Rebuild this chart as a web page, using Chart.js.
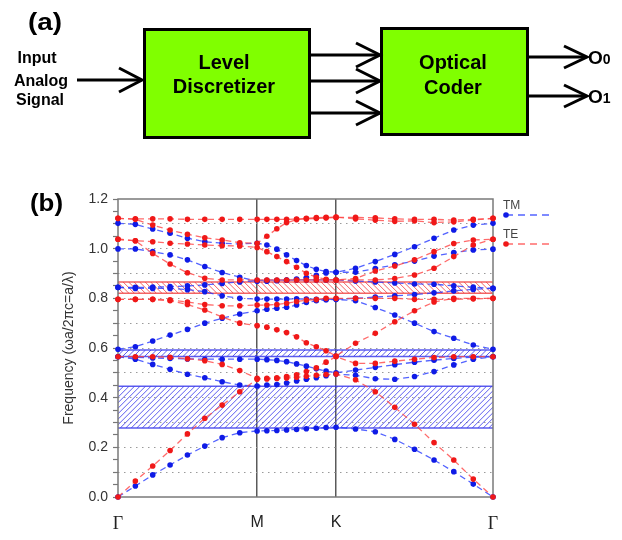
<!DOCTYPE html>
<html>
<head>
<meta charset="utf-8">
<script src="https://cdn.jsdelivr.net/npm/chart.js@4.4.0/dist/chart.umd.min.js"></script>
<style>
  body { margin: 0; background: #fff; width: 622px; height: 540px; position: relative; overflow: hidden; }
  #bands { position: absolute; left: 0; top: 180px; }
  #overlay { position: absolute; left: 0; top: 0; pointer-events: none; }
</style>
</head>
<body>
<canvas id="bands" width="622" height="360"></canvas>

<svg id="overlay" width="622" height="540" font-family="Liberation Sans, Arial, sans-serif">
  <!-- (a) block diagram -->
  <g font-weight="bold" fill="#000">
    <text x="28" y="30" font-size="23" textLength="34" lengthAdjust="spacingAndGlyphs">(a)</text>
    <g font-size="16" text-anchor="middle">
      <text x="37" y="63">Input</text>
      <text x="41" y="86">Analog</text>
      <text x="40" y="105">Signal</text>
    </g>
  </g>
  <rect x="144.5" y="29.5" width="165" height="108" fill="#80ff00" stroke="#000" stroke-width="3"/>
  <rect x="381.5" y="28.5" width="146" height="106" fill="#80ff00" stroke="#000" stroke-width="3"/>
  <g font-weight="bold" font-size="20" text-anchor="middle" fill="#000">
    <text x="224" y="69">Level</text>
    <text x="224" y="93">Discretizer</text>
    <text x="453" y="69">Optical</text>
    <text x="453" y="94">Coder</text>
  </g>
  <g stroke="#000" stroke-width="3" fill="none" stroke-linejoin="miter">
    <line x1="77" y1="80" x2="141" y2="80"/>
    <polyline points="119,68 142,80 119,92"/>
    <line x1="310" y1="55" x2="379" y2="55"/>
    <polyline points="356,43 380,55 356,67"/>
    <line x1="310" y1="81" x2="379" y2="81"/>
    <polyline points="356,69 380,81 356,93"/>
    <line x1="310" y1="113" x2="379" y2="113"/>
    <polyline points="356,101 380,113 356,125"/>
    <line x1="528" y1="57" x2="586" y2="57"/>
    <polyline points="564,46 587,57 564,68"/>
    <line x1="528" y1="96" x2="586" y2="96"/>
    <polyline points="564,85 587,96 564,107"/>
  </g>
  <g font-weight="bold" fill="#000">
    <text x="588" y="64" font-size="19">O<tspan font-size="14">0</tspan></text>
    <text x="588" y="103" font-size="19">O<tspan font-size="14">1</tspan></text>
  </g>

  <!-- (b) tag and legend -->
  <text x="30" y="211" font-size="23" font-weight="bold" textLength="33" lengthAdjust="spacingAndGlyphs">(b)</text>
  <g font-size="12" fill="#444">
    <text x="503" y="209">TM</text>
    <text x="503" y="238">TE</text>
  </g>
  <line x1="506" y1="215" x2="550" y2="215" stroke="rgba(40,60,255,0.8)" stroke-width="1.3" stroke-dasharray="7 5"/>
  <circle cx="506" cy="215" r="2.8" fill="#0f1be6"/>
  <line x1="506" y1="244" x2="550" y2="244" stroke="rgba(255,70,70,0.8)" stroke-width="1.3" stroke-dasharray="7 5"/>
  <circle cx="506" cy="244" r="2.8" fill="#f01818"/>
</svg>

<script>
// k-path Γ → M → K → Γ, 8 steps on each segment
const kPos = [0, 0.073, 0.146, 0.219, 0.292, 0.365, 0.438, 0.512, 0.585,
              0.626, 0.668, 0.709, 0.751, 0.792, 0.834, 0.875, 0.917,
              0.999, 1.082, 1.164, 1.247, 1.329, 1.412, 1.494, 1.577];
const symPoints = [0, 0.585, 0.917, 1.577];
const symLabels = ['Γ', 'M', 'K', 'Γ'];

// TM bands (blue)
const tm1 = [0, 0.044, 0.089, 0.129, 0.169, 0.205, 0.239, 0.259, 0.266, 0.267, 0.268, 0.27, 0.272, 0.275, 0.277, 0.28, 0.281, 0.274, 0.263, 0.232, 0.192, 0.149, 0.102, 0.052, 0];
const tm2 = [0.565, 0.555, 0.534, 0.514, 0.494, 0.48, 0.464, 0.451, 0.447, 0.451, 0.453, 0.459, 0.467, 0.474, 0.48, 0.488, 0.495, 0.49, 0.476, 0.474, 0.485, 0.505, 0.532, 0.555, 0.565];
const tm3 = [0.565, 0.563, 0.56, 0.558, 0.556, 0.555, 0.555, 0.555, 0.555, 0.553, 0.55, 0.545, 0.536, 0.527, 0.516, 0.507, 0.50, 0.511, 0.522, 0.533, 0.543, 0.551, 0.558, 0.563, 0.565];
const tm4 = [0.595, 0.605, 0.628, 0.652, 0.675, 0.70, 0.72, 0.737, 0.75, 0.756, 0.76, 0.764, 0.773, 0.783, 0.79, 0.794, 0.796, 0.79, 0.763, 0.733, 0.70, 0.666, 0.639, 0.612, 0.595];
const tm5 = [0.844, 0.84, 0.84, 0.84, 0.835, 0.827, 0.81, 0.80, 0.797, 0.797, 0.797, 0.797, 0.798, 0.797, 0.796, 0.796, 0.796, 0.80, 0.805, 0.81, 0.815, 0.822, 0.83, 0.836, 0.84];
const tm6 = [0.844, 0.844, 0.845, 0.847, 0.85, 0.854, 0.86, 0.866, 0.872, 0.873, 0.873, 0.873, 0.874, 0.874, 0.874, 0.874, 0.874, 0.87, 0.866, 0.862, 0.858, 0.857, 0.85, 0.845, 0.84];
const tm7 = [0.999, 0.999, 0.988, 0.975, 0.955, 0.928, 0.904, 0.885, 0.869, 0.869, 0.871, 0.874, 0.878, 0.884, 0.893, 0.902, 0.905, 0.905, 0.92, 0.935, 0.95, 0.97, 0.984, 0.995, 0.998];
const tm8 = [1.102, 1.098, 1.079, 1.062, 1.042, 1.028, 1.022, 1.019, 1.022, 1.015, 0.998, 0.975, 0.952, 0.932, 0.917, 0.908, 0.905, 0.921, 0.948, 0.977, 1.008, 1.042, 1.075, 1.095, 1.102];

// TE bands (red)
const te1 = [0, 0.064, 0.125, 0.187, 0.254, 0.317, 0.37, 0.424, 0.474, 0.475, 0.477, 0.479, 0.482, 0.486, 0.49, 0.493, 0.495, 0.472, 0.424, 0.361, 0.293, 0.219, 0.149, 0.072, 0];
const te2 = [0.565, 0.565, 0.565, 0.563, 0.557, 0.549, 0.534, 0.509, 0.478, 0.478, 0.48, 0.485, 0.492, 0.505, 0.52, 0.543, 0.565, 0.538, 0.538, 0.547, 0.555, 0.562, 0.565, 0.565, 0.565];
const te3 = [0.796, 0.796, 0.796, 0.79, 0.775, 0.753, 0.725, 0.70, 0.69, 0.684, 0.673, 0.662, 0.645, 0.621, 0.605, 0.589, 0.568, 0.619, 0.659, 0.706, 0.75, 0.785, 0.80, 0.80, 0.80];
const te4 = [0.796, 0.796, 0.796, 0.794, 0.785, 0.775, 0.77, 0.77, 0.773, 0.773, 0.775, 0.78, 0.787, 0.793, 0.795, 0.80, 0.80, 0.80, 0.80, 0.80, 0.796, 0.796, 0.796, 0.798, 0.80];
const te5 = [1.038, 1.032, 0.981, 0.938, 0.903, 0.881, 0.874, 0.874, 0.874, 0.874, 0.874, 0.874, 0.874, 0.874, 0.874, 0.874, 0.874, 0.874, 0.874, 0.88, 0.894, 0.921, 0.968, 1.015, 1.038];
const te6 = [1.038, 1.032, 1.028, 1.022, 1.019, 1.015, 1.012, 1.011, 1.005, 0.988, 0.968, 0.948, 0.925, 0.901, 0.885, 0.877, 0.874, 0.88, 0.91, 0.93, 0.955, 0.988, 1.021, 1.035, 1.038];
const te7 = [1.122, 1.118, 1.095, 1.075, 1.058, 1.044, 1.035, 1.024, 1.022, 1.05, 1.08, 1.105, 1.117, 1.122, 1.125, 1.126, 1.127, 1.12, 1.115, 1.11, 1.112, 1.105, 1.108, 1.115, 1.122];
const te8 = [1.122, 1.12, 1.12, 1.12, 1.118, 1.118, 1.118, 1.118, 1.118, 1.118, 1.118, 1.118, 1.119, 1.12, 1.122, 1.124, 1.126, 1.126, 1.124, 1.12, 1.118, 1.118, 1.115, 1.118, 1.122];

const tmBands = [tm1, tm2, tm3, tm4, tm5, tm6, tm7, tm8];
const teBands = [te1, te2, te3, te4, te5, te6, te7, te8];

// band gaps [low, high]
const tmGaps = [[0.278, 0.446], [0.566, 0.592]];
const teGaps = [[0.82, 0.866]];

const BLUE = '#0f1be6', BLUE_LINE = 'rgba(40,60,255,0.8)', BLUE_HATCH = 'rgba(50,50,235,0.8)';
const RED = '#f01818', RED_LINE = 'rgba(255,70,70,0.8)', RED_HATCH = 'rgba(240,60,60,0.8)';

function bandSet(values, point, line) {
    return {
        data: values.map((v, i) => ({ x: kPos[i], y: v })),
        showLine: true,
        borderColor: line,
        borderWidth: 1.3,
        borderDash: [6, 4],
        pointBackgroundColor: point,
        pointBorderWidth: 0,
        pointRadius: 2.8,
        clip: false
    };
}

// hatched gap regions + full frame, drawn under the bands
const gapHatch = {
    id: 'gapHatch',
    beforeDatasetsDraw(chart) {
        const { ctx, chartArea: a, scales: { y } } = chart;
        const hatch = (gap, color, rising) => {
            const top = y.getPixelForValue(gap[1]);
            const bot = y.getPixelForValue(gap[0]);
            const h = bot - top;
            ctx.save();
            ctx.beginPath();
            ctx.rect(a.left, top, a.right - a.left, h);
            ctx.clip();
            ctx.strokeStyle = color;
            ctx.lineWidth = 1;
            ctx.beginPath();
            for (let s = a.left - h; s < a.right + h; s += 5.5) {
                if (rising) { ctx.moveTo(s, bot); ctx.lineTo(s + h, top); }
                else { ctx.moveTo(s, top); ctx.lineTo(s + h, bot); }
            }
            ctx.stroke();
            ctx.restore();
            ctx.save();
            ctx.strokeStyle = color;
            ctx.lineWidth = 1.5;
            ctx.beginPath();
            ctx.moveTo(a.left, top); ctx.lineTo(a.right, top);
            ctx.moveTo(a.left, bot); ctx.lineTo(a.right, bot);
            ctx.stroke();
            ctx.restore();
        };
        tmGaps.forEach(g => hatch(g, BLUE_HATCH, true));
        teGaps.forEach(g => hatch(g, RED_HATCH, false));

        ctx.save();
        ctx.strokeStyle = '#7a7a7a';
        ctx.lineWidth = 1.5;
        ctx.strokeRect(a.left, a.top, a.right - a.left, a.bottom - a.top);
        ctx.restore();
    }
};

const datasets = [
    ...teBands.map(b => bandSet(b, RED, RED_LINE)),
    ...tmBands.map(b => bandSet(b, BLUE, BLUE_LINE))
];

new Chart(document.getElementById('bands'), {
    type: 'scatter',
    data: { datasets },
    plugins: [gapHatch],
    options: {
        responsive: false,
        animation: false,
        layout: { padding: { left: 0, right: 129, top: 19, bottom: 0 } },
        plugins: { legend: { display: false }, tooltip: { enabled: false } },
        scales: {
            x: {
                type: 'linear',
                min: 0,
                max: 1.577,
                afterBuildTicks: s => { s.ticks = symPoints.map(v => ({ value: v })); },
                afterFit: s => { s.height = 43; },
                ticks: {
                    padding: 16,
                    color: '#222',
                    callback: (v, i) => symLabels[i],
                    font: c => (c.index === 0 || c.index === 3)
                        ? { family: 'Liberation Serif', size: 18 }
                        : { family: 'Liberation Sans', size: 16 }
                },
                grid: {
                    drawTicks: false,
                    lineWidth: 1.5,
                    color: c => (c.index === 1 || c.index === 2) ? '#5a5a5a' : 'rgba(0,0,0,0)'
                },
                border: { display: false }
            },
            y: {
                min: 0,
                max: 1.2,
                afterFit: s => { s.width = 118; },
                ticks: {
                    stepSize: 0.05,
                    autoSkip: false,
                    padding: 5,
                    color: '#333',
                    font: { family: 'Liberation Sans', size: 14 },
                    callback: v => Math.abs(v * 5 - Math.round(v * 5)) < 1e-6 ? v.toFixed(1) : ''
                },
                grid: {
                    tickLength: 5,
                    tickColor: '#777',
                    tickWidth: 1.2,
                    tickBorderDash: [],
                    color: c => {
                        const v = c.tick.value;
                        const tenth = Math.abs(v * 10 - Math.round(v * 10)) < 1e-6;
                        return tenth && v > 0.01 && v < 1.19 ? '#9a9a9a' : 'rgba(0,0,0,0)';
                    }
                },
                border: { display: false, dash: [1.5, 4.5] },
                title: {
                    display: true,
                    text: 'Frequency (ωa/2πc=a/λ)',
                    color: '#333',
                    font: { family: 'Liberation Sans', size: 14 },
                    padding: { top: 61, bottom: 0 }
                }
            }
        }
    }
});
</script>
</body>
</html>
